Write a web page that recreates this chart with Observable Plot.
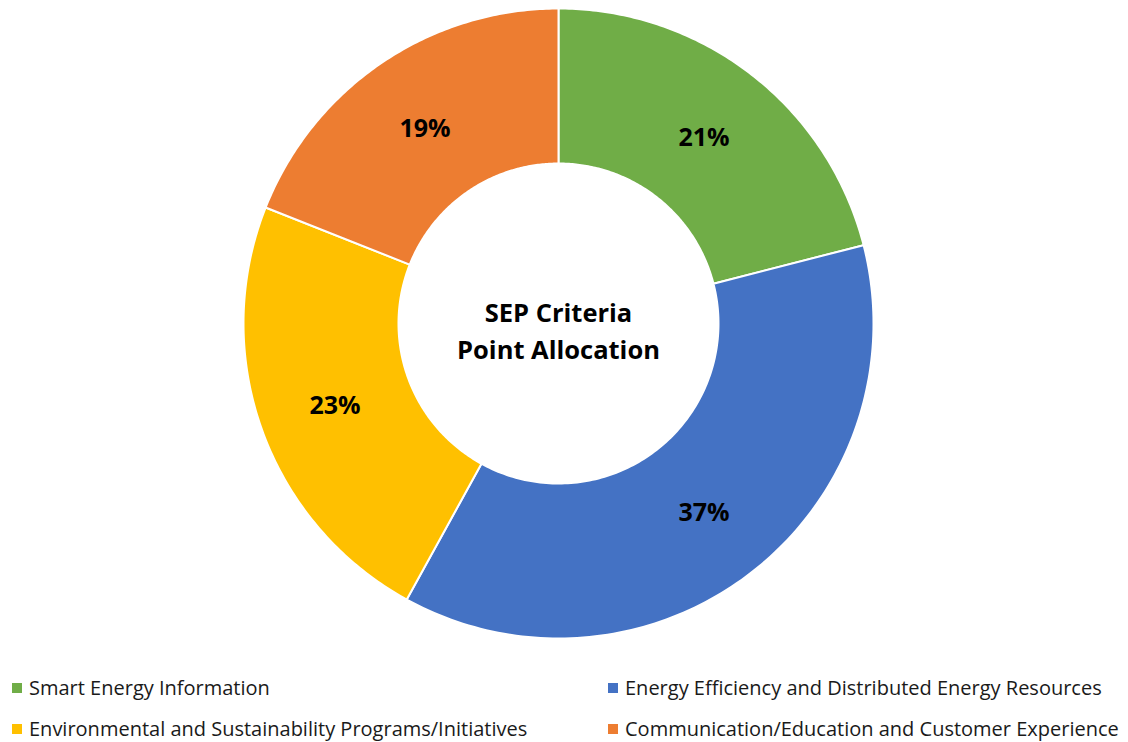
<!DOCTYPE html>
<html>
<head>
<meta charset="utf-8">
<script src="https://cdn.jsdelivr.net/npm/d3@7"></script>
<script src="https://cdn.jsdelivr.net/npm/@observablehq/plot@0.6"></script>
<style>
  html, body { margin: 0; padding: 0; background: #fff; }
  body { width: 1128px; height: 742px; overflow: hidden; font-family: "Open Sans", "Noto Sans", sans-serif; }
  #chart { position: absolute; left: 0; top: 0; }
  .legend { position: absolute; left: 0; top: 677px; width: 1128px; }
  .item { position: absolute; display: flex; align-items: center; font-size: 20px; line-height: 22px; height: 22px; color: #1a1a1a; white-space: nowrap; }
  .sw { width: 10px; height: 10px; margin-right: 7px; }
</style>
</head>
<body>
<div id="chart"></div>
<div class="legend" id="legend"></div>
<script>
const categories = [
  "Smart Energy Information",
  "Energy Efficiency and Distributed Energy Resources",
  "Environmental and Sustainability Programs/Initiatives",
  "Communication/Education and Customer Experience"
];
const values = [21, 37, 23, 19];
const colors = ["#70AD47", "#4472C4", "#FFC000", "#ED7D31"];
const centerTitle = "SEP Criteria\nPoint Allocation";

const W = 1128, H = 660;
const cx = 558, cy = 323;
const R = 315, r0 = 160;

const total = d3.sum(values);
const pie = d3.pie().sort(null).value(d => d.value)(categories.map((c, i) => ({cat: c, value: values[i]})));

// build ring polygons in data space (units = pixels, origin at donut centre, y up)
const poly = [];
pie.forEach(p => {
  const steps = 120;
  const pts = [];
  for (let k = 0; k <= steps; k++) {
    const a = p.startAngle + (p.endAngle - p.startAngle) * k / steps;
    pts.push([R * Math.sin(a), R * Math.cos(a)]);
  }
  for (let k = steps; k >= 0; k--) {
    const a = p.startAngle + (p.endAngle - p.startAngle) * k / steps;
    pts.push([r0 * Math.sin(a), r0 * Math.cos(a)]);
  }
  pts.push(pts[0]);
  pts.forEach(([x, y]) => poly.push({cat: p.data.cat, x, y}));
});

const labels = pie.map(p => {
  const a = (p.startAngle + p.endAngle) / 2;
  const rr = (R + r0) / 2;
  return {x: rr * Math.sin(a), y: rr * Math.cos(a) - 2, text: Math.round(p.data.value / total * 100) + "%"};
});

const chart = Plot.plot({
  width: W,
  height: H,
  margin: 0,
  x: {domain: [-cx, W - cx], axis: null},
  y: {domain: [cy - H, cy], axis: null},
  color: {domain: categories, range: colors},
  style: {fontFamily: "'Open Sans', 'Noto Sans', sans-serif", background: "white"},
  marks: [
    Plot.line(poly, {x: "x", y: "y", z: "cat", fill: "cat", stroke: "white", strokeWidth: 2, curve: "linear"}),
    Plot.text(labels, {x: "x", y: "y", text: "text", fontSize: 25, fontWeight: "bold", fill: "#000"}),
    Plot.text([centerTitle], {x: () => 0, y: () => -5, text: d => d, fontSize: 25.5, fontWeight: "bold", fill: "#000", lineHeight: 1.45})
  ]
});
document.getElementById("chart").appendChild(chart);

const legendPos = [[12, 0], [608, 0], [12, 41], [608, 41]];
const leg = document.getElementById("legend");
categories.forEach((c, i) => {
  const d = document.createElement("div");
  d.className = "item";
  d.style.left = legendPos[i][0] + "px";
  d.style.top = legendPos[i][1] + "px";
  d.innerHTML = `<span class="sw" style="background:${colors[i]}"></span><span>${c}</span>`;
  leg.appendChild(d);
});
</script>
</body>
</html>
